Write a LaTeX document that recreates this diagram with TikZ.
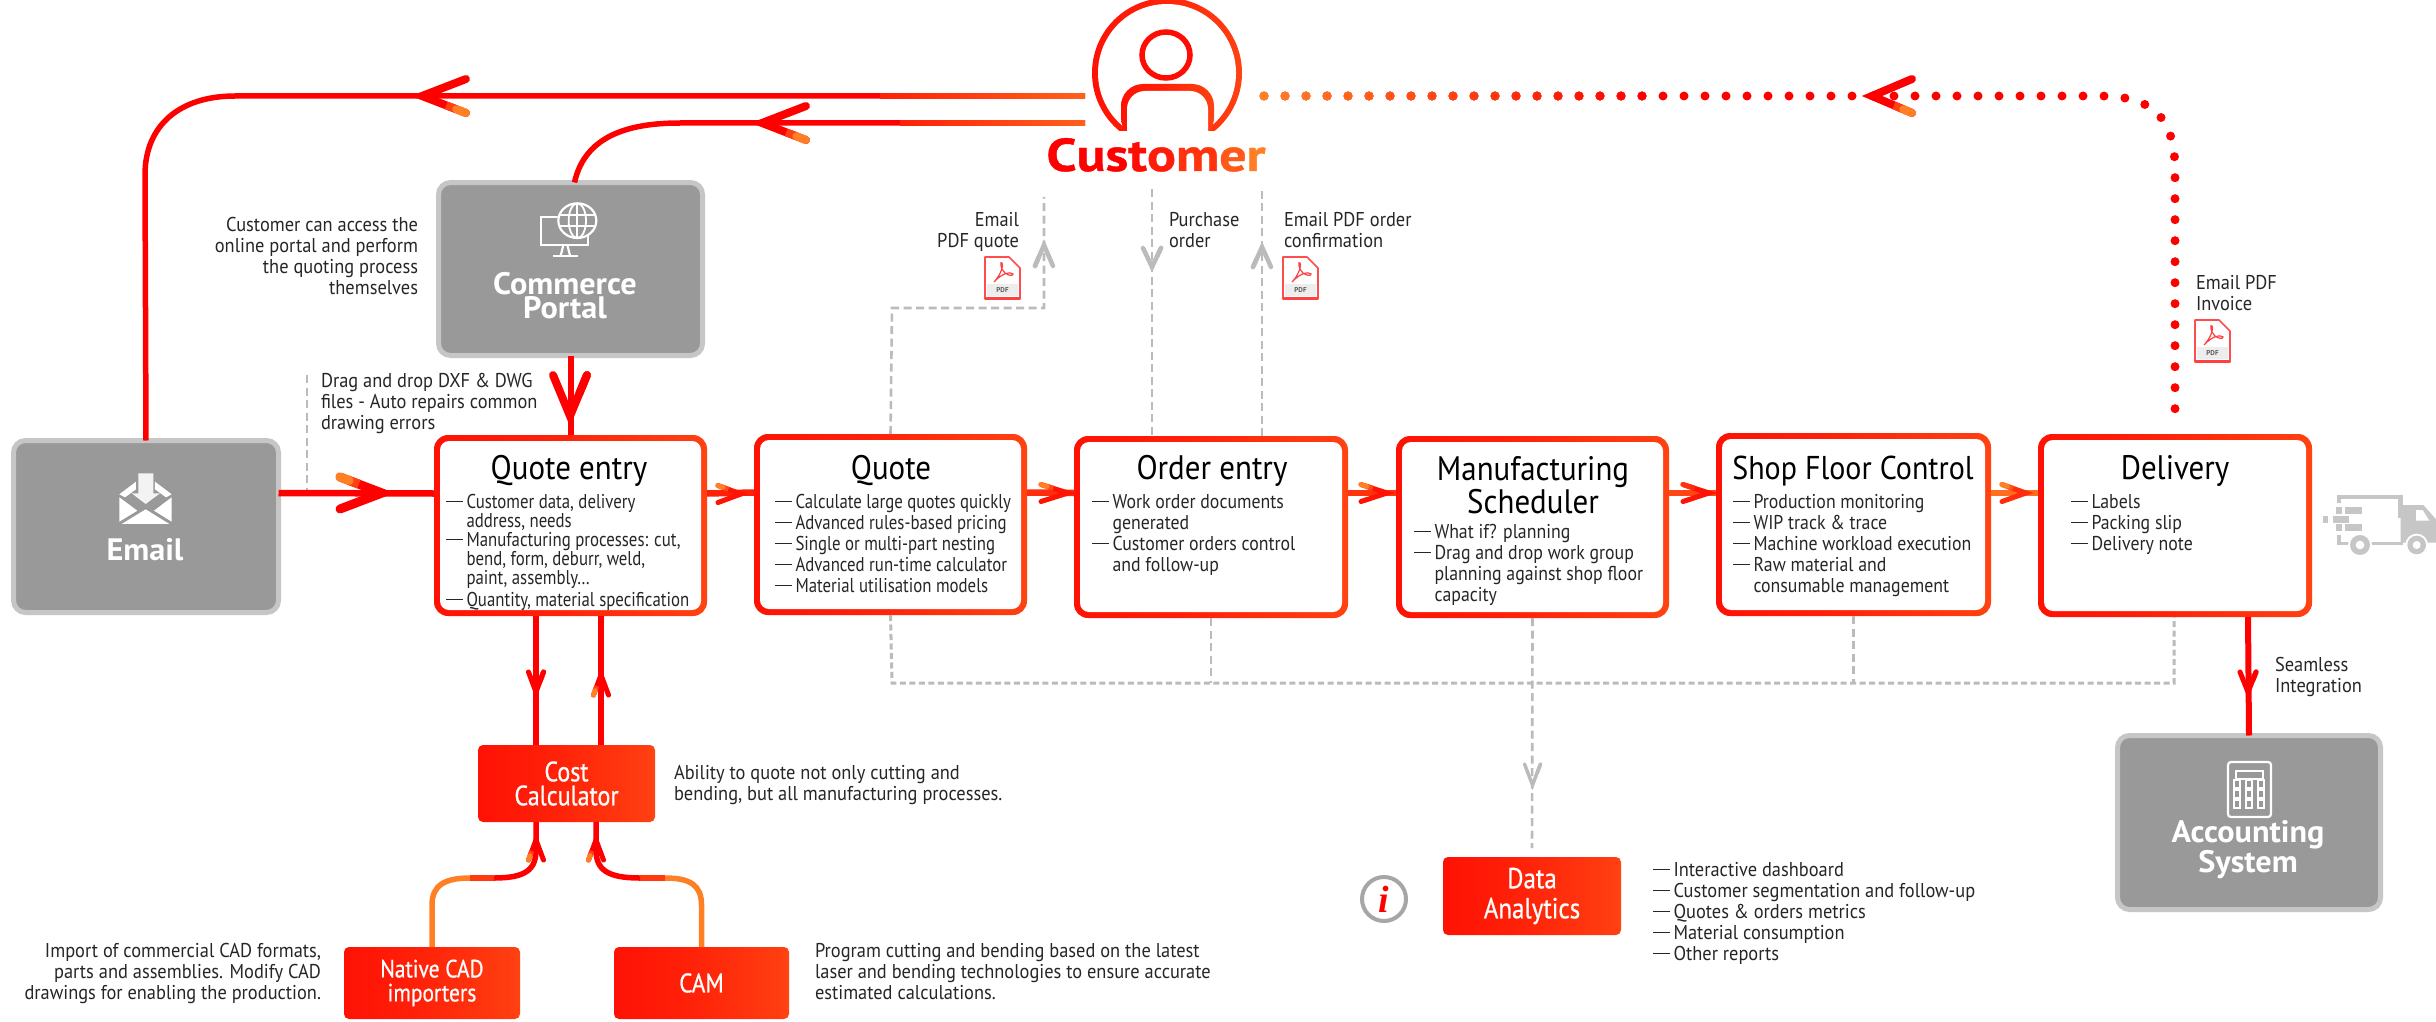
\documentclass[tikz,border=0pt]{standalone}
\usepackage{fontspec}
\setmainfont{PT Sans}
\newfontfamily\bodyf[FakeStretch=0.89]{PT Sans}
\newfontfamily\narrowf[FakeStretch=0.84]{PT Sans}
\newfontfamily\notef[FakeStretch=0.92]{PT Sans}
\newfontfamily\titlef[FakeStretch=0.91]{PT Sans}
\newfontfamily\boldf[FakeStretch=1.04]{PT Sans Bold}
\newfontfamily\custf[FakeStretch=1.17,FakeBold=1]{PT Sans Bold}
\newfontfamily\solidf[FakeStretch=0.86,FakeBold=0.6]{PT Sans}
\newfontfamily\serifi{Liberation Serif}
\definecolor{rd}{HTML}{FF0000}
\definecolor{rdb}{HTML}{FF2008}
\definecolor{ora}{HTML}{FF8024}
\definecolor{boxgray}{HTML}{999999}
\definecolor{edgegray}{HTML}{C6C6C6}
\definecolor{dashgray}{HTML}{BBBBBB}
\definecolor{ink}{HTML}{262626}
\pgfdeclarehorizontalshading{ro}{100bp}{color(0bp)=(rd); color(45bp)=(rdb); color(72bp)=(rdb!70!ora); color(100bp)=(ora)}
\pgfdeclarehorizontalshading{rolin}{100bp}{color(0bp)=(rd); color(100bp)=(ora)}
\usetikzlibrary{calc}
\tikzset{
  graynode/.style={draw=edgegray,fill=boxgray,line width=5pt,rounded corners=12pt,inner sep=0pt,outer sep=0pt},
  gradnode/.style={shade,shading=ro,rounded corners=14pt,inner sep=0pt,outer sep=0pt},
  whitenode/.style={fill=white,rounded corners=9pt,inner sep=0pt,outer sep=0pt},
  solidnode/.style={shade,shading=ro,rounded corners=5pt,inner sep=0pt,outer sep=0pt},
  bodytext/.style={font=\bodyf\fontsize{20}{21}\selectfont,text=ink,inner sep=0pt,outer sep=0pt,anchor=north west,align=left},
  narrowtext/.style={bodytext,font=\narrowf\fontsize{20}{21}\selectfont},
  notetext/.style={bodytext,font=\notef\fontsize{20}{21}\selectfont},
  righttext/.style={notetext,anchor=north east,align=right},
  titletext/.style={font=\titlef\fontsize{34}{30}\selectfont,text=black,inner sep=0pt,outer sep=0pt,align=center},
  graytext/.style={font=\boldf\fontsize{31}{24}\selectfont,text=white,inner sep=0pt,outer sep=0pt,align=center},
  solidtext/.style={font=\solidf\fontsize{#1}{24}\selectfont,text=white,inner sep=0pt,outer sep=0pt,align=center},
  mainline/.style={draw=rd,line width=5.5pt},
  flowline/.style={line width=6.5pt},
  dashline/.style={draw=dashgray,line width=2.6pt,dash pattern=on 8pt off 4.5pt},
  dotline/.style={line width=9pt,line cap=round,dash pattern=on 0pt off 21pt},
  icon/.style={draw=white,line width=2.2pt},
  truckpart/.style={fill=edgegray}
}
\newcommand{\grayboxnode}[5]{\node[graynode,minimum width={(#4-#2-5)*1pt},minimum height={(#5-#3-5)*1pt}] (#1) at ({(#2+#4)/2},{(#3+#5)/2}) {};}
\newcommand{\flowboxnode}[5]{\node[gradnode,minimum width={(#4-#2)*1pt},minimum height={(#5-#3)*1pt}] (#1) at ({(#2+#4)/2},{(#3+#5)/2}) {};
  \node[whitenode,minimum width={(#4-#2-12)*1pt},minimum height={(#5-#3-12)*1pt}] (#1inner) at (#1.center) {};}
\newcommand{\solidboxnode}[7]{\node[solidnode,minimum width={(#4-#2)*1pt},minimum height={(#5-#3)*1pt}] (#1) at ({(#2+#4)/2},{(#3+#5)/2}) {};
  \node[solidtext=#7] (#1text) at (#1.center) {#6};}
% tip x, tip y, direction, length, half width, line width, colour, colour of one wing end
\newcommand{\chevronmark}[8]{\begin{scope}[shift={(#1,#2)},rotate=#3]
  \draw[draw=#7,line width=#6pt,line cap=round,line join=miter] (-#4,#5) -- (0,0) -- (-#4,-#5);
  \draw[draw=#8!50!#7,line width=#6pt,line cap=butt] ({-0.55*#4},{-0.55*#5}) -- ({-0.78*#4},{-0.78*#5});
  \draw[draw=#8,line width=#6pt,line cap=round] ({-0.78*#4},{-0.78*#5}) -- (-#4,-#5);
\end{scope}}
\newcommand{\pdfmark}[3]{\begin{scope}[shift={(#2,#3)}]
  \node[inner sep=0pt,minimum width=35pt,minimum height=42pt] (#1) at (17.5,21) {};
  \draw[fill=white,draw=red!70!white,line width=1.6pt,line join=round] (0,0) -- (24,0) -- (35,11) -- (35,42) -- (0,42) -- cycle;
  \draw[draw=red!75!white,line width=2.6pt] (0,41.5) -- (35,41.5);
  \fill[black!7] (2,27) rectangle (33,39);
  \draw[draw=red!75!white,line width=1.2pt] (9,25) .. controls (14,20) and (19,10) .. (17,6) .. controls (15,3) and (15,12) .. (20,16) .. controls (24,19) and (28,19) .. (28,17) .. controls (26,15) and (18,15) .. (9,25);
  \node[font=\fontsize{7}{7}\selectfont\bfseries,text=black!65,inner sep=0pt] (#1text) at (17.5,33) {PDF};
\end{scope}}
\begin{document}
\begin{tikzpicture}[x=1pt,y=-1pt]
\useasboundingbox (0,0) rectangle (2436,1022);
\fill[white] (0,0) rectangle (2436,1022);

% ---------- boxes
\grayboxnode{email}{11}{438}{281}{615}
\grayboxnode{portal}{436}{180}{705}{358}
\grayboxnode{account}{2115}{733}{2383}{912}
\flowboxnode{qe}{434}{435}{707}{616}
\flowboxnode{q}{754}{434}{1027}{615}
\flowboxnode{oe}{1074}{436}{1348}{618}
\flowboxnode{ms}{1396}{436}{1669}{618}
\flowboxnode{sf}{1716}{433}{1991}{616}
\flowboxnode{de}{2038}{434}{2312}{617}
\solidboxnode{cost}{478}{745}{655}{822}{Cost\\Calculator}{28}
\solidboxnode{cad}{344}{947}{520}{1019}{Native CAD\\importers}{25}
\solidboxnode{cam}{614}{947}{789}{1019}{CAM}{27}
\solidboxnode{data}{1443}{857}{1621}{935}{Data\\[6pt]Analytics}{29}

% ---------- named free ends
\coordinate (custA) at (1085,96);
\coordinate (custB) at (1085,123);
\coordinate (custC) at (1264,96);
\coordinate (mailQ) at (1044,197);
\coordinate (custPO) at (1152,189);
\coordinate (custOC) at (1262,189);
\coordinate (dragTop) at (307,375);
\coordinate (dragEnd) at (307,491);

% ---------- dashed connectors
\draw[dashline] (q.north) -- (892,308) -- (1044,308) -- (mailQ);
\draw[dashline] (custPO) -- (custPO |- oe.north);
\draw[dashline] (custOC |- oe.north) -- (custOC);
\draw[dashline] (dragTop) -- (dragEnd);
\draw[dashline,line width=3pt,dash pattern=on 6pt off 3.5pt] (q.south) -- (892,683) -- (2174,683) -- (2174,617);
\draw[dashline] (oe.south) -- (1211,683);
\draw[dashline] (sf.south) -- (1853.5,683);
\draw[dashline] (ms.south) -- ([yshift=9pt]data.north);
\chevronmark{1044}{245}{90}{21}{9}{4.5}{dashgray}{dashgray}
\chevronmark{1152}{267}{-90}{19}{9}{4.5}{dashgray}{dashgray}
\chevronmark{1262}{247}{90}{20}{9}{4.5}{dashgray}{dashgray}
\chevronmark{1532.5}{785}{-90}{21}{8}{3.5}{dashgray}{dashgray}

% ---------- customer lines
\draw[mainline] (email.north) -- (145,175) .. controls (145,125) and (180,96) .. (235,96) -- (custA);
\shade[shading=rolin] (880,93.2) rectangle (1085,98.8);
\draw[mainline] ([xshift=4pt]portal.north) .. controls (585,135) and (630,123) .. (680,123) -- (custB);
\shade[shading=rolin] (900,120.2) rectangle (1085,125.8);
\chevronmark{422}{96}{180}{44}{17}{8}{rd}{ora}
\chevronmark{762}{123}{180}{44}{17}{8}{rd}{ora}

% ---------- dotted invoice line
\draw[dotline,draw=rd,shorten >=14pt] (custC) -- (2100,96) .. controls (2150,96) and (2175,115) .. (2175,170) -- (de.north);
\foreach \i in {0,...,18}{
  \pgfmathsetmacro{\pp}{100*\i/18}
  \fill[rd!\pp!ora] ({1264+21*\i},96) circle (4.6);
}
\chevronmark{1872}{96}{180}{40}{17}{8}{rd}{ora}

% ---------- flow connectors
\draw[mainline,line width=6.5pt] (email.east |- 0,493) -- ([yshift=32pt]qe.west);
\chevronmark{382}{493}{0}{42}{16}{9}{rd}{ora}
\draw[mainline,line width=6pt] (portal.south) -- (qe.north);
\chevronmark{570}{416}{-90}{41}{17}{8}{rd}{rd}
\draw[flowline,draw=rd!75!ora] ([yshift=32pt]qe.east) -- ([yshift=32pt]q.west);
\chevronmark{741}{494}{0}{23}{8.5}{5}{rd!85!ora}{ora}
\draw[flowline,draw=rd!65!ora] ([yshift=32pt]q.east) -- ([yshift=34pt]oe.west);
\chevronmark{1068}{493}{0}{27}{8.5}{5}{rd!85!ora}{ora}
\draw[flowline,draw=rd!60!ora] ([yshift=34pt]oe.east) -- ([yshift=34pt]ms.west);
\chevronmark{1387}{493}{0}{26}{8.5}{5}{rd!85!ora}{ora}
\draw[flowline,draw=rd!45!ora] ([yshift=34pt]ms.east) -- ([yshift=31.5pt]sf.west);
\chevronmark{1709}{493}{0}{26}{8.5}{5}{rd!85!ora}{rd!60!ora}
\draw[flowline,draw=rd!15!ora] ([yshift=31.5pt]sf.east) -- ([yshift=32.5pt]de.west);
\chevronmark{2026}{493}{0}{24}{8.5}{5}{rd!65!ora}{ora}

% ---------- delivery to accounting
\draw[mainline,line width=6pt] ([xshift=73pt]de.south) -- (account.north);
\chevronmark{2248}{692}{-90}{20}{8}{5}{rd}{rd}

% ---------- quote entry and cost calculator
\draw[mainline] ([xshift=-34.5pt]qe.south) -- ([xshift=-30.5pt]cost.north);
\chevronmark{536}{692}{-90}{20}{7.5}{5}{rd}{rd}
\draw[mainline] ([xshift=34.5pt]cost.north) -- ([xshift=30.5pt]qe.south);
\chevronmark{601}{675}{90}{20}{7.5}{5}{rd}{ora}

% ---------- importers
\draw[mainline,draw=ora] (cad.north) -- (432,905) .. controls (432,885) and (445,878) .. (470,878);
\draw[mainline,draw=rd!55!ora] (470,878) -- (494,878);
\draw[mainline] (494,878) .. controls (525,878) and (536,870) .. (536,850) -- ([xshift=-30.5pt]cost.south);
\chevronmark{536}{840}{90}{20}{7.5}{5}{rd}{ora}
\draw[mainline,draw=ora] (cam.north) -- (701.5,905) .. controls (701.5,885) and (690,878) .. (665,878);
\draw[mainline,draw=rd!55!ora] (665,878) -- (640,878);
\draw[mainline] (640,878) .. controls (608,878) and (596,870) .. (596,850) -- ([xshift=29.5pt]cost.south);
\chevronmark{596}{840}{90}{20}{7.5}{5}{rd}{ora}

% ---------- customer icon
\shade[shading=ro] (1167,73) circle (75);
\fill[white] (1167,73) circle (69);
\shade[shading=ro,rounded corners=22pt] (1121,140) -- (1121,84) -- (1214,84) -- (1214,140) -- cycle;
\fill[white,rounded corners=18pt] (1127,150) -- (1127,91) -- (1208,91) -- (1208,150) -- cycle;
\fill[white] (1116,131) rectangle (1218,150);
\draw[draw=rd!90!ora,line width=5.5pt] (1166,55) ellipse (24 and 23);
\node[font=\custf\fontsize{46}{46}\selectfont,inner sep=0pt,outer sep=0pt,anchor=base] (customer) at (1156,171) {\textcolor{rd}{C}\textcolor{rd}{u}\textcolor{rd}{s}\textcolor{rd!90!ora}{t}\textcolor{rd!78!ora}{o}\textcolor{rd!60!ora}{m}\textcolor{rd!30!ora}{e}\textcolor{ora}{r}};

% ---------- gray box labels and icons
\node[graytext] (emailt) at (145,550) {Email};
\node[graytext] (portalt) at (565,296) {Commerce\\Portal};
\node[graytext] (accountt) at (2248,850) {Accounting\\System};

\begin{scope}[shift={(100,460)},scale=0.3333]
  \fill[white] (58,112) -- (112,152) -- (58,185) -- cycle;
  \fill[white] (215,112) -- (162,152) -- (215,185) -- cycle;
  \fill[white] (65,192) -- (137,148) -- (208,192) -- cycle;
  \fill[white] (58,103) -- (108,65) -- (108,88) -- (75,112) -- cycle;
  \fill[white] (215,103) -- (165,65) -- (165,88) -- (198,112) -- cycle;
  \fill[white!88!boxgray] (115,40) -- (160,40) -- (160,100) -- (180,100) -- (137,132) -- (95,100) -- (115,100) -- cycle;
\end{scope}

\begin{scope}[shift={(520,190)},scale=0.3333]
  \draw[icon] (62,80) rectangle (205,165);
  \draw[icon] (130,165) -- (122,197);
  \draw[icon] (142,165) -- (150,197);
  \draw[icon] (98,197) -- (175,197);
  \fill[boxgray] (172,92) ellipse (60 and 55);
  \draw[icon] (172,92) ellipse (57 and 52);
  \draw[icon,line width=1.8pt] (172,92) ellipse (26 and 52);
  \draw[icon,line width=1.8pt] (172,40) -- (172,144);
  \draw[icon,line width=1.8pt] (118,75) -- (226,75);
  \draw[icon,line width=1.8pt] (118,109) -- (226,109);
\end{scope}

\draw[icon,rounded corners=3pt] (2228,762) rectangle (2271,817);
\draw[icon,line width=1.6pt] (2236,771) rectangle (2263,779);
\foreach \cx in {2237,2249,2261}{\foreach \cy in {784,794,804}{
  \draw[icon,line width=1.3pt] (\cx-3,\cy-4) rectangle (\cx+3,\cy+4);}}

% ---------- truck
\begin{scope}[shift={(2310,480)},scale=0.3333]
  \fill[truckpart] (80,45) rectangle (278,58);
  \fill[truckpart] (80,45) rectangle (93,70);
  \fill[truckpart] (80,165) rectangle (93,195);
  \fill[truckpart] (80,185) rectangle (278,195);
  \fill[truckpart] (265,45) rectangle (278,115);
  \fill[truckpart] (78,82) rectangle (95,102);
  \fill[truckpart] (105,82) rectangle (155,102);
  \fill[truckpart] (40,108) rectangle (55,128);
  \fill[truckpart] (68,108) rectangle (118,128);
  \fill[truckpart] (78,133) rectangle (95,153);
  \fill[truckpart] (105,133) rectangle (155,153);
  \fill[truckpart] (272,75) -- (340,75) -- (378,118) -- (378,188) -- (272,188) -- cycle;
  \fill[white] (318,90) -- (338,90) -- (358,122) -- (318,122) -- cycle;
  \fill[white] (150,195) circle (36);
  \fill[truckpart] (150,195) circle (30);
  \fill[white] (150,195) circle (13);
  \fill[white] (320,195) circle (34);
  \fill[truckpart] (320,195) circle (28);
  \fill[white] (320,195) circle (12);
\end{scope}

% ---------- info mark
\node[circle,draw=black!35,line width=4pt,minimum size=44pt,inner sep=0pt,font=\serifi\bfseries\itshape\fontsize{38}{38}\selectfont,text=rd] (info) at (1384,899) {i};

% ---------- PDF marks
\pdfmark{pdfA}{985}{257}
\pdfmark{pdfB}{1283}{257}
\pdfmark{pdfC}{2195}{320}

% ---------- box titles
\node[titletext] (qet) at (569,471) {Quote entry};
\node[titletext] (qt) at (891,471) {Quote};
\node[titletext] (oet) at (1212,471) {Order entry};
\node[titletext] (mst) at (1533,485) {Manufacturing\\Scheduler};
\node[titletext,font=\titlef\fontsize{33}{30}\selectfont] (sft) at (1853,471) {Shop Floor Control};
\node[titletext] (det) at (2175,471) {Delivery};

% ---------- box lists
\newcommand{\di}{\makebox[20.5pt][l]{\rule[6pt]{16.5pt}{1.4pt}}}
\newcommand{\dc}{\hspace*{20.5pt}}
\node[narrowtext,font=\narrowf\fontsize{20}{19}\selectfont] (qel) at (446,494) {\di Customer data, delivery\\\dc address, needs\\\di Manufacturing processes: cut,\\\dc bend, form, deburr, weld,\\\dc paint, assembly…\\[3pt]\di Quantity, material specification};
\node[narrowtext] (ql) at (775,494) {\di Calculate large quotes quickly\\\di Advanced rules-based pricing\\\di Single or multi-part nesting\\\di Advanced run-time calculator\\\di Material utilisation models};
\node[bodytext] (oel) at (1092,494) {\di Work order documents\\\dc generated\\\di Customer orders control\\\dc and follow-up};
\node[bodytext] (msl) at (1414,524) {\di What if? planning\\\di Drag and drop work group\\\dc planning against shop floor\\\dc capacity};
\node[bodytext] (sfl) at (1733,494) {\di Production monitoring\\\di WIP track \& trace\\\di Machine workload execution\\\di Raw material and\\\dc consumable management};
\node[bodytext] (del) at (2071,494) {\di Labels\\\di Packing slip\\\di Delivery note};
\node[notetext] (dal) at (1653,862) {\di Interactive dashboard\\\di Customer segmentation and follow-up\\\di Quotes \& orders metrics\\\di Material consumption\\\di Other reports};

% ---------- notes
\node[righttext] (n1) at (418,217) {Customer can access the\\online portal and perform\\the quoting process\\themselves};
\node[notetext] (n2) at (321,373) {Drag and drop DXF \& DWG\\files - Auto repairs common\\drawing errors};
\node[righttext] (n3) at (1019,212) {Email\\PDF quote};
\node[notetext] (n4) at (1169,212) {Purchase\\order};
\node[notetext] (n5) at (1284,212) {Email PDF order\\confirmation};
\node[notetext] (n6) at (2196,275) {Email PDF\\Invoice};
\node[notetext] (n7) at (2275,657) {Seamless\\Integration};
\node[notetext] (n8) at (674,765) {Ability to quote not only cutting and\\bending, but all manufacturing processes.};
\node[righttext] (n9) at (321,943) {Import of commercial CAD formats,\\parts and assemblies. Modify CAD\\drawings for enabling the production.};
\node[notetext] (n10) at (815,943) {Program cutting and bending based on the latest\\laser and bending technologies to ensure accurate\\estimated calculations.};
\end{tikzpicture}
\end{document}
